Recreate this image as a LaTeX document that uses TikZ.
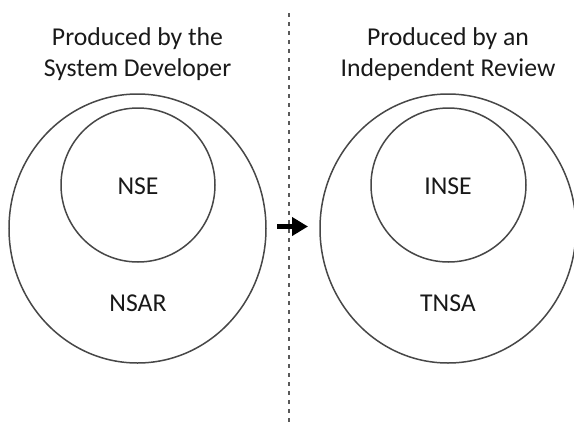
\documentclass[tikz,border=0pt]{standalone}
\usepackage{fontspec}
\setmainfont{Carlito}
\usetikzlibrary{shapes.geometric,arrows.meta}
\tikzset{
  ring/.style={draw=black!72, line width=1.5pt, ellipse, inner sep=0pt},
  lbl/.style={anchor=base, inner sep=0pt, text=black!90, font=\fontsize{25.7}{31}\selectfont},
}
\begin{document}
\begin{tikzpicture}[x=1pt,y=-1pt]
\useasboundingbox (0,0) rectangle (574,424);
% divider
\draw[black!65, line width=2.4pt, dash pattern=on 3.5pt off 5.5pt] (289,13) -- (289,424);
% titles
\node[lbl] (t1) at (137.5,45.7) {Produced by the};
\node[lbl] (t2) at (137.5,76) {System Developer};
\node[lbl] (t3) at (448,45.7) {Produced by an};
\node[lbl] (t4) at (448,76) {Independent Review};
% circles
\node[ring, minimum width=257pt, minimum height=269pt] (lo) at (137.5,228.5) {};
\node[ring, minimum width=154pt, minimum height=154pt] (li) at (138,185) {};
\node[ring, minimum width=256pt, minimum height=269pt] (ro) at (448,228.5) {};
\node[ring, minimum width=155pt, minimum height=154pt] (ri) at (448.5,185) {};
% labels
\node[lbl] (nse) at (138,194) {NSE};
\node[lbl] (nsar) at (138,311.5) {NSAR};
\node[lbl] (inse) at (448,194) {INSE};
\node[lbl] (tnsa) at (448,311.5) {TNSA};
% arrow
\coordinate (a1) at (277,226.5);
\coordinate (a2) at (308,226.5);
\draw[black, line width=5.5pt, -{Triangle[length=16pt,width=18pt]}] (a1) -- (a2);
\end{tikzpicture}
\end{document}
